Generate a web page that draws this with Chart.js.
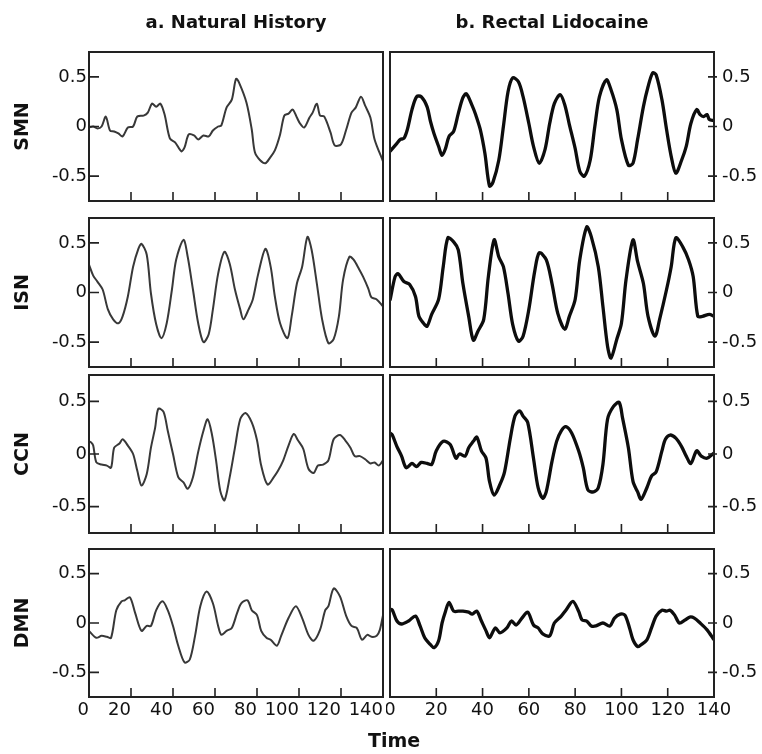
<!DOCTYPE html>
<html><head><meta charset="utf-8">
<script src="https://cdn.jsdelivr.net/npm/chart.js@4.4.1/dist/chart.umd.min.js"></script>
<style>
html,body{margin:0;padding:0;background:#fff;width:762px;height:754px;overflow:hidden}
canvas{position:absolute;display:block}
</style>
</head><body>
<script>
// ---------- labels & ticks ----------
const columnTitles = ['a. Natural History', 'b. Rectal Lidocaine'];
const rowLabels = ['SMN', 'ISN', 'CCN', 'DMN'];
const xAxisTitle = 'Time';
const xTickValues = [0, 20, 40, 60, 80, 100, 120, 140];
const yTickValues = [-0.5, 0, 0.5];

// ---------- data (time, value) ----------
const smnNaturalT = [0,2,4,6,8,10,12,14,16,18.5,21,23,26,28,30,32,34,36,38.5,41,44,45.5,47.5,50,52,54.5,57,59,61.5,63,65.5,68,70,71.5,75,77.5,79,81.5,84,86,88.5,91,93,95,97,99,100.5,102.5,105,106.5,108.5,110,112,115,117,120,122.5,125,127,129.5,131.5,134,136,140];
const smnNaturalV = [-0.01,0.0,-0.02,0.0,0.1,-0.04,-0.05,-0.07,-0.1,-0.01,0.0,0.1,0.11,0.14,0.23,0.2,0.23,0.12,-0.12,-0.16,-0.25,-0.21,-0.08,-0.09,-0.13,-0.09,-0.1,-0.04,0.0,0.01,0.19,0.27,0.48,0.44,0.24,-0.03,-0.26,-0.34,-0.37,-0.32,-0.24,-0.08,0.11,0.13,0.17,0.09,0.03,-0.01,0.09,0.14,0.23,0.11,0.1,-0.06,-0.19,-0.18,-0.03,0.14,0.19,0.3,0.21,0.09,-0.13,-0.35];

const smnLidoT = [0,3,4.5,6,7.5,9.5,11.5,13.5,16,17.5,19,21,22.5,24,25.5,27.5,29.5,31.5,33,35.5,37,39,41,43,44.5,47,49,51,53,55.5,57.5,60,62,64.5,67,69,71,73.5,75.5,77.5,80,82,84,86.5,88.5,90.5,93.5,95.5,98,100,103,105,107,109.5,111.5,113.5,115,117.5,119.5,121.5,123.5,126,128,130,132.5,134,135.5,137,138,140];
const smnLidoV = [-0.25,-0.17,-0.13,-0.12,-0.03,0.17,0.3,0.3,0.2,0.05,-0.07,-0.2,-0.29,-0.22,-0.1,-0.05,0.13,0.29,0.33,0.21,0.12,-0.03,-0.27,-0.6,-0.56,-0.34,0.0,0.35,0.49,0.45,0.3,0.03,-0.2,-0.37,-0.23,0.03,0.23,0.32,0.22,0.02,-0.22,-0.45,-0.5,-0.34,0.0,0.3,0.47,0.37,0.17,-0.13,-0.39,-0.37,-0.13,0.2,0.4,0.54,0.52,0.27,-0.03,-0.3,-0.47,-0.34,-0.2,0.03,0.17,0.12,0.1,0.12,0.07,0.06];

const isnNaturalT = [0,2,4,6.5,9,11.5,14,16,18.5,21,23.5,25,27.5,29.5,32,34.5,37,39.5,41.5,45,47,49.5,52,54.5,57,59,61.5,64.5,67,69.5,72,73.5,76,78,80.5,84,86.5,88.5,91,94.5,96.5,99,101.5,104,106,108.5,111,114,116.5,119,121,124,126,128.5,130.5,133,134.5,137,140];
const isnNaturalV = [0.28,0.17,0.11,0.03,-0.17,-0.27,-0.31,-0.24,-0.04,0.26,0.44,0.49,0.38,-0.01,-0.32,-0.46,-0.31,0.03,0.33,0.53,0.36,0.03,-0.31,-0.5,-0.42,-0.17,0.19,0.41,0.29,0.03,-0.17,-0.27,-0.17,-0.07,0.18,0.44,0.26,-0.04,-0.31,-0.46,-0.24,0.09,0.26,0.56,0.43,0.09,-0.27,-0.51,-0.47,-0.24,0.13,0.36,0.33,0.24,0.16,0.04,-0.05,-0.07,-0.14];

const isnLidoT = [0,2.2,3.5,6,8.5,11,12.5,14.5,16,18,21,23,25,27.5,29.5,31.5,34,36,38,40.5,42.5,45,47,49,51,53,55.5,57.5,60,62.5,64.5,67.5,70,72.5,75.5,77.5,80,82,85,87,90,92,94,95.5,98,100,102,105,107,109.5,111.5,114.5,116.5,119.5,121.5,123.5,126.5,129,131,133,135,138,140];
const isnLidoV = [-0.08,0.16,0.19,0.11,0.08,-0.04,-0.24,-0.31,-0.34,-0.22,-0.07,0.26,0.55,0.51,0.43,0.09,-0.24,-0.48,-0.39,-0.27,0.16,0.53,0.36,0.26,-0.01,-0.32,-0.49,-0.44,-0.17,0.21,0.4,0.33,0.09,-0.21,-0.37,-0.24,-0.07,0.33,0.66,0.56,0.26,-0.14,-0.54,-0.66,-0.47,-0.31,0.13,0.53,0.31,0.09,-0.24,-0.44,-0.27,0.03,0.26,0.55,0.46,0.33,0.16,-0.24,-0.24,-0.22,-0.24];

const ccnNaturalT = [0,1,2,3.5,6,8.5,10.5,12,14.5,16,18.5,21,23,25,27.5,29.5,31.5,33,35.5,37.5,40,42.5,45,47,49.5,52,54.5,56.5,58.5,60.5,62.5,64.5,67,69.5,72,74.5,77.5,80,82,85,88,90,92.5,95,97.5,99.5,102,104.5,107,109,111.5,114,116.5,119.5,122,124.5,126.5,129,131.5,134,136,138,140];
const ccnNaturalV = [0.12,0.11,0.08,-0.08,-0.1,-0.11,-0.13,0.06,0.1,0.14,0.08,0.0,-0.16,-0.3,-0.19,0.06,0.25,0.43,0.4,0.22,0.0,-0.22,-0.27,-0.33,-0.22,0.02,0.22,0.33,0.19,-0.06,-0.35,-0.44,-0.22,0.06,0.33,0.39,0.3,0.13,-0.11,-0.29,-0.22,-0.16,-0.06,0.08,0.19,0.13,0.05,-0.14,-0.18,-0.11,-0.1,-0.06,0.14,0.18,0.13,0.06,-0.02,-0.02,-0.05,-0.09,-0.08,-0.11,-0.06];

const ccnLidoT = [0,1,3,5,7,9.5,11.5,13.5,16,18,20,23,26,28.5,30,32.5,34,36,37.5,39.5,41.5,43,45,47.5,49.5,52,54,56,57.5,59.5,62,64,66,67.5,70,72,74,76,78.5,81.5,83.5,85.5,88,90,92,94,96.5,99,100.5,103,105,107,108.5,111,113,115,117.5,119,121,123.5,126,128,130,132.5,134.5,137,140];
const ccnLidoV = [0.2,0.18,0.07,-0.02,-0.13,-0.09,-0.12,-0.08,-0.09,-0.1,0.03,0.12,0.09,-0.04,0.0,-0.02,0.06,0.12,0.16,0.03,-0.04,-0.26,-0.39,-0.29,-0.17,0.15,0.36,0.41,0.36,0.3,-0.04,-0.32,-0.42,-0.36,-0.07,0.12,0.22,0.26,0.2,0.03,-0.13,-0.34,-0.36,-0.32,-0.1,0.33,0.45,0.49,0.34,0.06,-0.26,-0.36,-0.43,-0.32,-0.21,-0.17,0.03,0.14,0.18,0.15,0.07,-0.02,-0.09,0.03,-0.02,-0.04,0.01];

const dmnNaturalT = [0,3.5,6,8.5,10.5,13,15.5,17,19.5,22,25,27.5,29.5,32,35,37.5,40,42.5,45.5,48,50.5,53,56,59,61.5,63,65.5,68,70.5,72.5,75.5,77.5,80,82,84.5,86.5,89.5,91.5,95,98.5,101.5,104.5,107,110,112.5,114,116.5,119.5,122.5,125,127.5,130,132.5,134.5,137,138.5,140];
const dmnNaturalV = [-0.08,-0.15,-0.13,-0.14,-0.15,0.13,0.22,0.23,0.26,0.1,-0.08,-0.03,-0.03,0.13,0.22,0.13,-0.03,-0.23,-0.4,-0.37,-0.13,0.17,0.32,0.2,-0.03,-0.12,-0.08,-0.05,0.1,0.2,0.23,0.13,0.08,-0.08,-0.15,-0.17,-0.23,-0.13,0.05,0.17,0.05,-0.12,-0.18,-0.07,0.13,0.17,0.35,0.27,0.07,-0.03,-0.05,-0.17,-0.12,-0.14,-0.13,-0.07,0.08];

const dmnLidoT = [0,1,3,5,8,11,13,15,17.5,19,21,22.5,24,25.5,27.5,29.5,31.5,34,35.5,37.5,39.5,41.5,43,45.5,47.5,50.5,52.5,54.5,57,59.5,62,64,66,69,71,74,76,79,81.5,83,85,87,89,92,95,97,99.5,101.5,103.5,105,107,108.5,111,113,115,117.5,119.5,121,123,125,127.5,129.5,131.5,134,137,140];
const dmnLidoV = [0.14,0.13,0.02,-0.01,0.02,0.07,-0.03,-0.15,-0.22,-0.25,-0.18,0.0,0.12,0.21,0.12,0.12,0.12,0.11,0.09,0.12,0.02,-0.08,-0.15,-0.05,-0.1,-0.05,0.02,-0.02,0.05,0.11,-0.02,-0.05,-0.11,-0.13,0.0,0.07,0.13,0.22,0.12,0.03,0.02,-0.03,-0.03,0.0,-0.03,0.05,0.09,0.08,-0.05,-0.17,-0.24,-0.22,-0.17,-0.05,0.07,0.13,0.12,0.13,0.08,0.0,0.03,0.06,0.05,0.0,-0.07,-0.17];

const seriesGrid = [
  [[smnNaturalT, smnNaturalV], [smnLidoT, smnLidoV]],
  [[isnNaturalT, isnNaturalV], [isnLidoT, isnLidoV]],
  [[ccnNaturalT, ccnNaturalV], [ccnLidoT, ccnLidoV]],
  [[dmnNaturalT, dmnNaturalV], [dmnLidoT, dmnLidoV]]
];

// ---------- layout (page geometry, px) ----------
const rowGeom = [
  {top: 0,   height: 210, areaTop: 52,  areaBottom: 201},
  {top: 210, height: 162, areaTop: 218, areaBottom: 367},
  {top: 372, height: 169, areaTop: 375, areaBottom: 533},
  {top: 541, height: 213, areaTop: 549, areaBottom: 697}
];
const colGeom = [
  {left: 0,   width: 392, areaLeft: 89,  areaRight: 383, side: 'left'},
  {left: 386, width: 376, areaLeft: 390, areaRight: 714, side: 'right'}
];
const FONT = "'DejaVu Sans', 'Liberation Sans', sans-serif";
const lineStyles = [{color: '#383838', width: 2}, {color: '#0d0d0d', width: 3.3}];

Chart.defaults.font.family = FONT;
Chart.defaults.color = '#111';

const framePlugin = {
  id: 'frame',
  afterDatasetsDraw(chart, args, opts) {
    const {ctx, chartArea: a, scales} = chart;
    ctx.save();
    ctx.strokeStyle = '#222';
    ctx.lineWidth = 1.6;
    ctx.beginPath();
    yTickValues.forEach(v => {
      const py = scales.y.getPixelForValue(v);
      if (opts.side === 'left') { ctx.moveTo(a.left, py); ctx.lineTo(a.left + 10, py); }
      else { ctx.moveTo(a.right - 6, py); ctx.lineTo(a.right + 3, py); }
    });
    xTickValues.forEach(v => {
      const px = scales.x.getPixelForValue(v);
      ctx.moveTo(px, a.bottom); ctx.lineTo(px, a.bottom - 9);
    });
    ctx.stroke();
    ctx.lineWidth = 2;
    ctx.strokeRect(a.left, a.top, a.right - a.left, a.bottom - a.top);
    ctx.restore();
  }
};

const timePlugin = {
  id: 'timeLabel',
  afterDraw(chart, args, opts) {
    if (!opts || !opts.text) return;
    const {ctx, chartArea: a} = chart;
    ctx.save();
    ctx.font = 'bold 19px ' + FONT;
    ctx.fillStyle = '#111';
    ctx.textAlign = 'center';
    ctx.textBaseline = 'middle';
    ctx.fillText(opts.text, a.right + 11, a.bottom + 45);
    ctx.restore();
  }
};

for (let r = 0; r < 4; r++) {
  for (let c = 0; c < 2; c++) {
    const rg = rowGeom[r], cg = colGeom[c];
    const isBottom = r === 3, isTop = r === 0;
    let cw = cg.width;
    if (isBottom && c === 0) cw = 440;
    const canvas = document.createElement('canvas');
    canvas.width = cw; canvas.height = rg.height;
    canvas.style.left = cg.left + 'px'; canvas.style.top = rg.top + 'px';
    canvas.style.width = cw + 'px'; canvas.style.height = rg.height + 'px';
    document.body.appendChild(canvas);

    const [ts, vs] = seriesGrid[r][c];
    const pts = ts.map((t, i) => ({x: t, y: vs[i]}));

    const areaTopLocal = rg.areaTop - rg.top;
    const areaBottomLocal = rg.areaBottom - rg.top;
    const xScaleH = rg.height - areaBottomLocal;
    const titlePadTop = 12.5, titleLH = 18 * 1.2;
    const padTop = isTop ? 0 : areaTopLocal;

    const yAxisWidth = c === 0 ? cg.areaLeft - cg.left : (cg.left + cg.width) - cg.areaRight;
    const padLeft = c === 0 ? 0 : cg.areaLeft - cg.left;
    const padRight = c === 0 ? cw - cg.areaRight : 0;

    new Chart(canvas.getContext('2d'), {
      type: 'line',
      data: {datasets: [{
        data: pts,
        borderColor: lineStyles[c].color,
        borderWidth: lineStyles[c].width,
        borderJoinStyle: 'round',
        pointRadius: 0,
        tension: 0.3,
        fill: false
      }]},
      options: {
        responsive: false, animation: false, devicePixelRatio: 1, events: [],
        layout: {padding: {top: padTop, left: padLeft, right: padRight, bottom: 0}},
        plugins: {
          legend: {display: false}, tooltip: {enabled: false},
          title: {
            display: isTop, text: columnTitles[c], fullSize: false,
            font: {family: FONT, size: 18, weight: 'bold'}, color: '#111',
            padding: {top: titlePadTop, bottom: areaTopLocal - titlePadTop - titleLH}
          },
          frame: {side: cg.side},
          timeLabel: {text: (isBottom && c === 0) ? xAxisTitle : ''}
        },
        scales: {
          x: {
            type: 'linear', min: 0, max: 140,
            grid: {display: false, drawTicks: false}, border: {display: false},
            afterBuildTicks: s => { s.ticks = xTickValues.map(v => ({value: v})); },
            ticks: {
              display: isBottom, autoSkip: false, maxRotation: 0, minRotation: 0,
              padding: 3, align: c === 0 ? 'end' : 'center',
              font: {family: FONT, size: 18}, color: '#111',
              callback: v => String(v)
            },
            afterFit: s => { s.height = xScaleH; s.paddingLeft = 0; s.paddingRight = 0; }
          },
          y: {
            position: cg.side, min: -0.75, max: 0.75,
            grid: {display: false, drawTicks: false}, border: {display: false},
            afterBuildTicks: s => { s.ticks = yTickValues.map(v => ({value: v})); },
            ticks: {
              padding: c === 0 ? 2 : 8,
              font: {family: FONT, size: 18}, color: '#111',
              callback: v => String(v)
            },
            title: {
              display: c === 0, text: rowLabels[r],
              font: {family: FONT, size: 19, weight: 'bold'}, color: '#111',
              padding: {top: 12, bottom: 0}
            },
            afterFit: s => { s.width = yAxisWidth; s.paddingTop = 0; s.paddingBottom = 0; }
          }
        }
      },
      plugins: [framePlugin, timePlugin]
    });
  }
}
</script>
</body></html>
